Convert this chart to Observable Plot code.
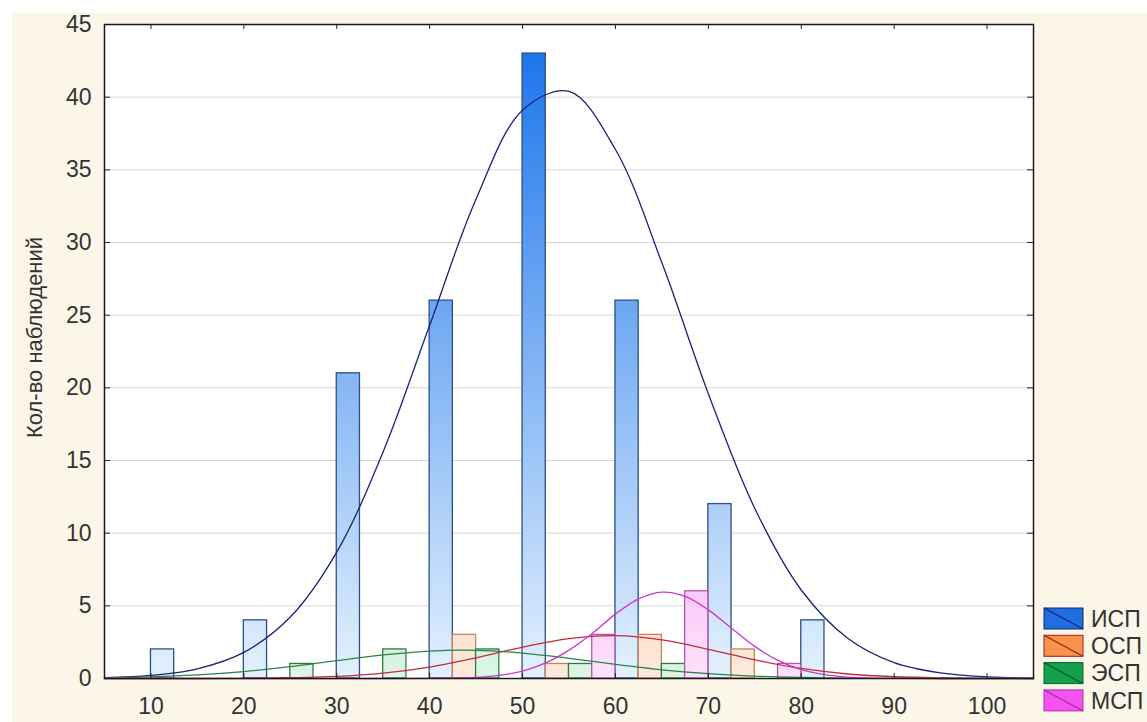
<!DOCTYPE html>
<html><head><meta charset="utf-8">
<script src="https://cdn.jsdelivr.net/npm/d3@7"></script>
<script src="https://cdn.jsdelivr.net/npm/@observablehq/plot@0.6"></script>
<style>
html,body{margin:0;padding:0;background:#fff;}
#wrap{position:relative;width:1147px;height:722px;overflow:hidden;}
#bg{position:absolute;left:12px;top:13px;right:0;bottom:0;background:#fbf6e8;}
#chart{position:absolute;left:0;top:0;}
</style></head><body>
<div id="wrap"><div id="bg"></div><div id="chart"></div></div>
<script>
// ---- data ----
const series = ["ИСП", "ОСП", "ЭСП", "МСП"];
const binStarts = [10, 20, 30, 40, 50, 60, 70, 80, 90, 100];
const binWidth = 10;
const ispCounts = [2, 4, 21, 26, 43, 26, 12, 4, 0, 0];
const ospCounts = [0, 0, 0, 3, 1, 3, 2, 0, 0, 0];
const espCounts = [0, 1, 2, 2, 1, 1, 0, 0, 0, 0];
const mspCounts = [0, 0, 0, 0, 3, 6, 1, 0, 0, 0];

// fitted normal curves
const curveX = [5, 10, 15, 20, 25, 30, 35, 40, 45, 50, 55, 60, 65, 70, 75, 80, 85, 90, 95, 100, 105];
const ispCurve = [0.06, 0.21, 0.67, 1.80, 4.23, 8.70, 15.6, 24.3, 33.0, 39.1, 40.4, 36.4, 28.6, 19.6, 11.7, 6.09, 2.77, 1.09, 0.38, 0.11, 0.03];
const ospCurve = [0, 0, 0, 0.01, 0.05, 0.14, 0.37, 0.79, 1.42, 2.16, 2.75, 2.95, 2.66, 2.01, 1.28, 0.69, 0.31, 0.12, 0.04, 0.01, 0];
const espCurve = [0.04, 0.11, 0.25, 0.48, 0.81, 1.23, 1.62, 1.89, 1.94, 1.75, 1.39, 0.97, 0.60, 0.33, 0.16, 0.07, 0.02, 0.01, 0, 0, 0];
const mspCurveX = [5, 35, 40, 42.5, 45, 47.5, 50, 52.5, 55, 57.5, 60, 62.5, 65, 67.5, 70, 72.5, 75, 77.5, 80, 82.5, 85, 87.5, 90, 95, 105];
const mspCurve = [0, 0, 0.01, 0.03, 0.08, 0.21, 0.51, 1.07, 1.95, 3.1, 4.43, 5.48, 5.94, 5.65, 4.72, 3.45, 2.21, 1.25, 0.61, 0.27, 0.10, 0.03, 0.01, 0, 0];

const xTicks = [10, 20, 30, 40, 50, 60, 70, 80, 90, 100];
const yTicks = [0, 5, 10, 15, 20, 25, 30, 35, 40, 45];
const gridY = [5, 10, 15, 20, 25, 30, 35, 40];
const yLabel = "Кол-во наблюдений";

// ---- styles ----
const gradBottom = ["#e4f1fd", "#fdebdd", "#dff5e6", "#fce2fb"];
const gradTop = ["#1470ea", "#f07020", "#10a040", "#e830e8"];
const barStroke = ["#2b4f88", "#c4865c", "#2e7d45", "#b455b4"];
const curveStroke = ["#1b237a", "#c42a3a", "#2a8446", "#cc36cc"];
const swatchFill = ["#1f6fe0", "#f7934c", "#14a04c", "#f552f0"];
const swatchLine = ["#1b237a", "#a02020", "#0a6030", "#b030b0"];

// ---- tables ----
const countsBySeries = [ispCounts, ospCounts, espCounts, mspCounts];
const subW = binWidth / series.length;
const bars = [];
series.forEach((s, i) => {
  binStarts.forEach((b, j) => {
    const v = countsBySeries[i][j];
    if (v > 0) bars.push({series: s, x1: b + i * subW, x2: b + (i + 1) * subW, y: v});
  });
});
const curves = [];
[[curveX, ispCurve], [curveX, ospCurve], [curveX, espCurve], [mspCurveX, mspCurve]].forEach(([xs, ys], i) => {
  xs.forEach((x, k) => curves.push({series: series[i], x, y: ys[k]}));
});

const W = 1147, H = 722, mL = 104, mR = 114, mT = 24, mB = 44;
const pw = W - mL - mR, ph = H - mT - mB;
const font = "'Liberation Sans', Arial, sans-serif";

const chart = Plot.plot({
  width: W, height: H,
  marginLeft: mL, marginRight: mR, marginTop: mT, marginBottom: mB,
  style: {background: "transparent", fontFamily: font, fontSize: "23px", color: "#333"},
  x: {domain: [5, 105]},
  y: {domain: [0, 45]},
  marks: [
    Plot.frame({fill: "white", stroke: null}),
    Plot.ruleY(gridY, {stroke: "#d6d6d6", strokeWidth: 1}),
    ...series.map((s, i) => Plot.rect(bars.filter(d => d.series === s), {
      x1: "x1", x2: "x2", y1: d => 0, y2: "y",
      fill: `url(#grad${i})`, stroke: barStroke[i], strokeWidth: 1.3
    })),
    ...series.map((s, i) => Plot.line(curves.filter(d => d.series === s), {
      x: "x", y: "y", stroke: curveStroke[i], strokeWidth: 1.3, curve: "catmull-rom"
    })),
    Plot.tickY(yTicks, {y: d => d, stroke: "#222", insetRight: pw - 6}),
    Plot.tickY(yTicks, {y: d => d, stroke: "#222", insetLeft: pw - 6}),
    Plot.tickX(xTicks, {x: d => d, stroke: "#222", insetBottom: ph - 5}),
    Plot.tickX(xTicks, {x: d => d, stroke: "#222", insetTop: ph - 5}),
    Plot.frame({stroke: "#1a1a1a", strokeWidth: 1.5}),
    Plot.axisX(xTicks, {tickSize: 0, tickPadding: 19, fontSize: 23, fill: "#333", label: null}),
    Plot.axisY(yTicks, {tickSize: 0, tickPadding: 13, fontSize: 23, fill: "#333", label: null}),
    Plot.text([yLabel], {frameAnchor: "left", textAnchor: "middle", dx: -70, dy: -14, rotate: -90, fontSize: 22, fill: "#333"})
  ]
});
document.getElementById("chart").appendChild(chart);

// gradients (absolute in plot space)
const svg = d3.select(chart);
const ys = chart.scale("y");
const defs = svg.insert("defs", ":first-child");
series.forEach((s, i) => {
  const g = defs.append("linearGradient").attr("id", `grad${i}`)
    .attr("gradientUnits", "userSpaceOnUse")
    .attr("x1", 0).attr("x2", 0)
    .attr("y1", ys.apply(0)).attr("y2", ys.apply(45));
  g.append("stop").attr("offset", 0).attr("stop-color", gradBottom[i]);
  g.append("stop").attr("offset", 1).attr("stop-color", gradTop[i]);
});

// legend
const lg = svg.append("g").attr("font-family", font).attr("font-size", 23)
  .attr("fill", "#333").attr("text-anchor", "start");
const lx = W - mR + 11, ly = 608, sw = 39, sh = 21, step = 27.3;
series.forEach((s, i) => {
  const y0 = ly + i * step;
  lg.append("rect").attr("x", lx).attr("y", y0).attr("width", sw).attr("height", sh)
    .attr("fill", swatchFill[i]).attr("stroke", swatchLine[i]).attr("stroke-width", 1);
  lg.append("line").attr("x1", lx).attr("y1", y0).attr("x2", lx + sw).attr("y2", y0 + sh)
    .attr("stroke", swatchLine[i]).attr("stroke-width", 1.3);
  lg.append("text").attr("x", lx + sw + 8).attr("y", y0 + sh / 2).attr("dy", "0.36em").text(s);
});
</script>
</body></html>
